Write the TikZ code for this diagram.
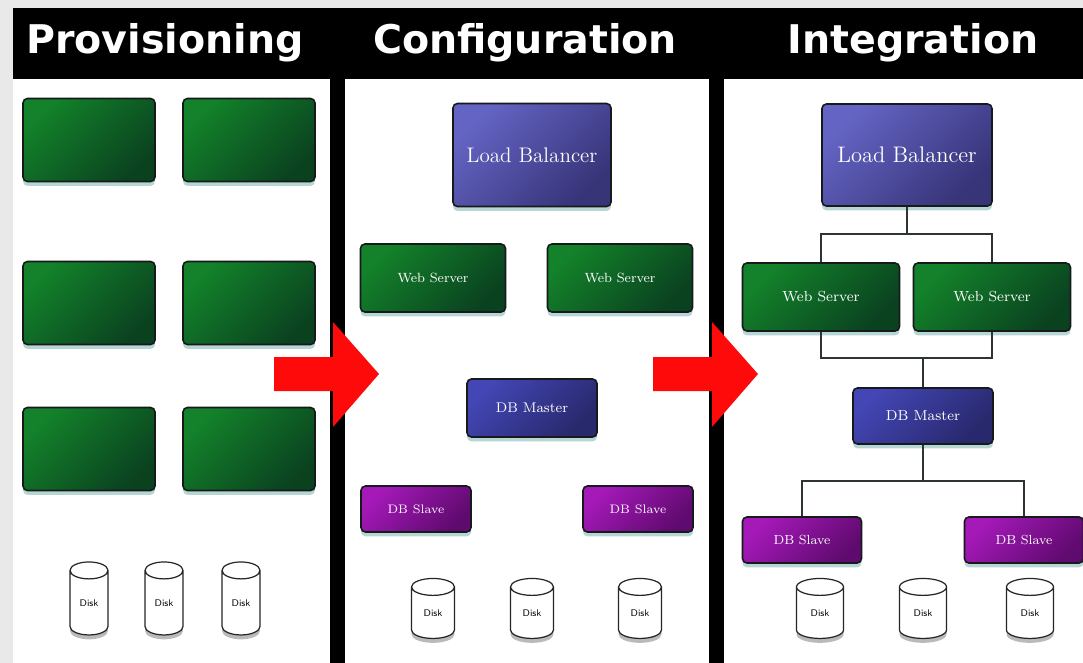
\documentclass[tikz,border=0pt]{standalone}
\usepackage{fontspec}
\usepackage{tikz}
\usetikzlibrary{shapes.geometric,shadows}
\newfontfamily\headfont{DejaVu Sans}
\newcommand{\ptsize}[1]{\fontsize{#1}{#1}\selectfont}

\definecolor{pagegray}{HTML}{E9E9E9}
\definecolor{boxline}{HTML}{161A1C}
\definecolor{glow}{HTML}{A9CFCB}
\definecolor{vmlight}{HTML}{13822A}
\definecolor{vmdark}{HTML}{0A4220}
\definecolor{lblight}{HTML}{6464C4}
\definecolor{lbdark}{HTML}{373478}
\definecolor{mlight}{HTML}{4346B4}
\definecolor{mdark}{HTML}{28286C}
\definecolor{slight}{HTML}{A519B9}
\definecolor{sdark}{HTML}{5F0A6E}
\definecolor{linegray}{HTML}{2E3432}
\definecolor{arrowred}{HTML}{FF0A0A}

\tikzset{
  box/.style={draw=boxline, line width=0.9pt, rounded corners=2.5pt, text=white, inner sep=0pt,
    drop shadow={shadow xshift=0pt, shadow yshift=-2.5pt, fill=glow, opacity=0.85}},
  vm/.style={box, top color=vmlight, bottom color=vmdark, shading angle=45,
    minimum width=2.64cm, minimum height=1.66cm},
  balancer/.style={box, top color=lblight, bottom color=lbdark, shading angle=45},
  web/.style={box, top color=vmlight, bottom color=vmdark, shading angle=45},
  master/.style={box, top color=mlight, bottom color=mdark, shading angle=45},
  slave/.style={box, top color=slight, bottom color=sdark, shading angle=45},
  disk/.style={cylinder, shape border rotate=90, shape aspect=0.9, draw=black!85, fill=white,
    line width=0.7pt, inner sep=0pt, font=\sffamily\ptsize{5.5},
    drop shadow={shadow xshift=0pt, shadow yshift=-2.5pt, fill=black!45, opacity=0.6}},
  link/.style={draw=linegray, line width=0.8pt},
  head/.style={text=white, anchor=base, font=\headfont\bfseries\ptsize{22.5}},
}

\begin{document}
\begin{tikzpicture}[x=0.02cm, y=-0.02cm]
\useasboundingbox (0,0) rectangle (1083,663);

% frame and panels
\fill[pagegray] (0,0) rectangle (1083,663);
\fill[black] (13,8) rectangle (1083,663);
\fill[white] (13,79) rectangle (330,663);
\fill[white] (345,79) rectangle (709,663);
\fill[white] (724,79) rectangle (1083,663);

\node[head] (hprov) at (165,53) {Provisioning};
\node[head] (hconf) at (525,53) {Configuration};
\node[head] (hint) at (913,53) {Integration};

% provisioning
\foreach \x [count=\i] in {89,249}
  \foreach \y [count=\j] in {140,303,449}
    \node[vm] (vm\i\j) at (\x,\y) {};
\foreach \x [count=\i] in {89,164,241}
  \node[disk, minimum width=0.76cm, minimum height=1.46cm] (dka\i) at (\x,603) {Disk};

% configuration
\node[balancer, minimum width=3.16cm, minimum height=2.06cm, font=\ptsize{12}] (lb2) at (532,155) {Load Balancer};
\node[web, minimum width=2.9cm, minimum height=1.36cm, font=\ptsize{7.6}] (ws2a) at (433,278) {Web Server};
\node[web, minimum width=2.9cm, minimum height=1.36cm, font=\ptsize{7.6}] (ws2b) at (620,278) {Web Server};
\node[master, minimum width=2.6cm, minimum height=1.16cm, font=\ptsize{8}] (dbm2) at (532,408) {DB Master};
\node[slave, minimum width=2.2cm, minimum height=0.92cm, font=\ptsize{7}] (dbs2a) at (416,509) {DB Slave};
\node[slave, minimum width=2.2cm, minimum height=0.92cm, font=\ptsize{7}] (dbs2b) at (638,509) {DB Slave};
\foreach \x [count=\i] in {433,532,640}
  \node[disk, minimum width=0.86cm, minimum height=1.2cm] (dkb\i) at (\x,613) {Disk};

% integration
\node[balancer, minimum width=3.4cm, minimum height=2.04cm, font=\ptsize{12.8}] (lb3) at (907,155) {Load Balancer};
\node[web, minimum width=3.14cm, minimum height=1.36cm, font=\ptsize{8.3}] (ws3a) at (821,297) {Web Server};
\node[web, minimum width=3.14cm, minimum height=1.36cm, font=\ptsize{8.3}] (ws3b) at (992,297) {Web Server};
\node[master, minimum width=2.8cm, minimum height=1.12cm, font=\ptsize{8.2}] (dbm3) at (923,416) {DB Master};
\node[slave, minimum width=2.38cm, minimum height=0.92cm, font=\ptsize{7.5}] (dbs3a) at (802,540) {DB Slave};
\node[slave, minimum width=2.38cm, minimum height=0.92cm, font=\ptsize{7.5}] (dbs3b) at (1024,540) {DB Slave};
\foreach \x [count=\i] in {820,923,1030}
  \node[disk, minimum width=0.94cm, minimum height=1.2cm] (dkc\i) at (\x,613) {Disk};

\coordinate (j1) at (907,234);
\coordinate (j2) at (923,358);
\coordinate (j3) at (923,481);
\draw[link] (lb3) -- (j1) -| (ws3a);
\draw[link] (j1) -| (ws3b);
\draw[link] (ws3a) |- (j2) -| (ws3b);
\draw[link] (j2) -- (dbm3);
\draw[link] (dbm3) -- (j3) -| (dbs3a);
\draw[link] (j3) -| (dbs3b);

% red arrows between panels
\foreach \ax in {274,653}
  \fill[arrowred] (\ax,357) -- ++(59,0) -- ++(0,-35) -- ++(46,52) -- ++(-46,53)
    -- ++(0,-36) -- ++(-59,0) -- cycle;
\end{tikzpicture}
\end{document}
